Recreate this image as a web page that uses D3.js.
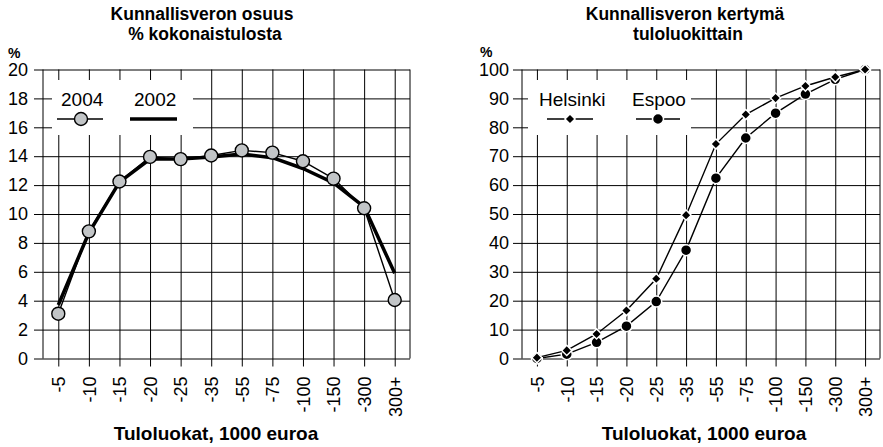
<!DOCTYPE html>
<html>
<head>
<meta charset="utf-8">
<script src="https://cdn.jsdelivr.net/npm/d3@7"></script>
<style>
  body { margin: 0; background: #fff; }
  text { font-family: "Liberation Sans", Arial, sans-serif; fill: #000; }
</style>
</head>
<body>
<div id="chart"></div>
<script>
const categories = ["-5", "-10", "-15", "-20", "-25", "-35", "-55", "-75", "-100", "-150", "-300", "300+"];
const share2004 = [3.1, 8.8, 12.25, 13.95, 13.8, 14.05, 14.4, 14.25, 13.65, 12.45, 10.4, 4.05];
const share2002 = [3.7, 8.7, 12.2, 13.8, 13.8, 13.95, 14.15, 13.9, 13.15, 12.15, 10.5, 5.9];
const helsinki = [0.3, 2.8, 8.5, 16.6, 27.6, 49.6, 74.2, 84.4, 90.1, 94.3, 97.4, 100];
const espoo = [0, 1.5, 5.6, 11.2, 19.7, 37.5, 62.4, 76.3, 84.9, 91.5, 96.6, 100];
const leftTicks = [0, 2, 4, 6, 8, 10, 12, 14, 16, 18, 20];
const rightTicks = [0, 10, 20, 30, 40, 50, 60, 70, 80, 90, 100];

function main() {
    const svg = d3.select("#chart").append("svg")
        .attr("width", 883)
        .attr("height", 447);

    const top = 69.5, bottom = 358.5;

    // draws grid, axes and labels of one panel, returns the scales
    function panel(x0, x1, yMax, ticks, labelPad) {
        const x = d3.scalePoint().domain(categories).range([x0, x1]).padding(0.5);
        const y = d3.scaleLinear().domain([0, yMax]).range([bottom, top]);

        const yAxis = svg.append("g")
            .attr("transform", "translate(" + x0 + ",0)")
            .call(d3.axisLeft(y).tickValues(ticks).tickSize(-(x1 - x0)).tickPadding(labelPad));
        yAxis.select(".domain").remove();
        yAxis.selectAll(".tick line").attr("x1", -9).attr("stroke", "#000");
        yAxis.selectAll(".tick text")
            .attr("font-size", "18px")
            .attr("font-family", "Liberation Sans, Arial, sans-serif");

        const xAxis = svg.append("g")
            .attr("transform", "translate(0," + bottom + ")")
            .call(d3.axisBottom(x).tickSize(-(bottom - top)).tickSizeOuter(0));
        xAxis.select(".domain").remove();
        xAxis.selectAll(".tick line").attr("y1", 8).attr("stroke", "#000");
        xAxis.selectAll(".tick text")
            .attr("font-size", "18px")
            .attr("font-family", "Liberation Sans, Arial, sans-serif")
            .attr("transform", "rotate(-90)")
            .attr("text-anchor", "end")
            .attr("x", -18)
            .attr("y", 0)
            .attr("dy", "0.35em");

        svg.append("line")
            .attr("x1", x0).attr("x2", x0).attr("y1", top).attr("y2", bottom)
            .attr("stroke", "#000");
        svg.append("line")
            .attr("x1", x1).attr("x2", x1).attr("y1", top).attr("y2", bottom)
            .attr("stroke", "#000");
        return { x, y };
    }

    function title(cx, lines) {
        lines.forEach((t, i) => {
            svg.append("text")
                .attr("x", cx + t[1]).attr("y", 19.5 + i * 20)
                .attr("text-anchor", "middle")
                .attr("font-weight", "bold")
                .attr("font-size", "17.5px")
                .text(t[0]);
        });
    }

    // ---------- left panel ----------
    const L = panel(43, 410, 20, leftTicks, 15);
    title(202, [["Kunnallisveron osuus", 0], ["% kokonaistulosta", 3]]);
    svg.append("text").attr("x", 8).attr("y", 58)
        .attr("font-weight", "bold").attr("font-size", "14px").text("%");
    svg.append("text").attr("x", 216).attr("y", 440)
        .attr("text-anchor", "middle").attr("font-weight", "bold").attr("font-size", "19px")
        .text("Tuloluokat, 1000 euroa");

    svg.append("rect")
        .attr("x", 52).attr("y", 80).attr("width", 141).attr("height", 55)
        .attr("fill", "#fff");

    const lineL = d3.line()
        .x((d, i) => L.x(categories[i]))
        .y(d => L.y(d));

    svg.append("path").datum(share2002)
        .attr("d", lineL).attr("fill", "none")
        .attr("stroke", "#000").attr("stroke-width", 3.5).attr("stroke-linejoin", "round");
    svg.append("path").datum(share2004)
        .attr("d", lineL).attr("fill", "none")
        .attr("stroke", "#000").attr("stroke-width", 1.4);
    svg.selectAll(".dot2004")
        .data(share2004)
        .enter()
        .append("circle")
        .attr("class", "dot2004")
        .attr("cx", (d, i) => L.x(categories[i]))
        .attr("cy", d => L.y(d))
        .attr("r", 6.5)
        .attr("fill", "#c2c5c7")
        .attr("stroke", "#000")
        .attr("stroke-width", 1.4);

    // legend left
    svg.append("text").attr("x", 61).attr("y", 106).attr("font-size", "19px").text("2004");
    svg.append("text").attr("x", 134).attr("y", 106).attr("font-size", "19px").text("2002");
    svg.append("line").attr("x1", 57).attr("x2", 103).attr("y1", 119).attr("y2", 119)
        .attr("stroke", "#000").attr("stroke-width", 1.4);
    svg.append("circle").attr("cx", 81).attr("cy", 119).attr("r", 6.5)
        .attr("fill", "#c2c5c7").attr("stroke", "#000").attr("stroke-width", 1.4);
    svg.append("line").attr("x1", 130).attr("x2", 177).attr("y1", 119).attr("y2", 119)
        .attr("stroke", "#000").attr("stroke-width", 3.5);

    // ---------- right panel ----------
    const R = panel(522, 880, 100, rightTicks, 13);
    title(685, [["Kunnallisveron kertymä", 0], ["tuloluokittain", 3]]);
    svg.append("text").attr("x", 480).attr("y", 57)
        .attr("font-weight", "bold").attr("font-size", "14px").text("%");
    svg.append("text").attr("x", 704).attr("y", 440)
        .attr("text-anchor", "middle").attr("font-weight", "bold").attr("font-size", "19px")
        .text("Tuloluokat, 1000 euroa");

    svg.append("rect")
        .attr("x", 528).attr("y", 80).attr("width", 163).attr("height", 55)
        .attr("fill", "#fff");

    const lineR = d3.line()
        .x((d, i) => R.x(categories[i]))
        .y(d => R.y(d));
    const diamond = d3.symbol(d3.symbolSquare, 52);

    svg.append("path").datum(espoo)
        .attr("d", lineR).attr("fill", "none")
        .attr("stroke", "#000").attr("stroke-width", 1.4);
    svg.selectAll(".dotEspoo")
        .data(espoo)
        .enter()
        .append("circle")
        .attr("class", "dotEspoo")
        .attr("cx", (d, i) => R.x(categories[i]))
        .attr("cy", d => R.y(d))
        .attr("r", 5.5)
        .attr("fill", "#000")
        .attr("stroke", "#fff")
        .attr("stroke-width", 1.5);

    svg.append("path").datum(helsinki)
        .attr("d", lineR).attr("fill", "none")
        .attr("stroke", "#000").attr("stroke-width", 1.4);
    svg.selectAll(".dotHelsinki")
        .data(helsinki)
        .enter()
        .append("path")
        .attr("class", "dotHelsinki")
        .attr("d", diamond)
        .attr("transform", (d, i) => "translate(" + R.x(categories[i]) + "," + R.y(d) + ") rotate(45)")
        .attr("fill", "#000")
        .attr("stroke", "#fff")
        .attr("stroke-width", 1.5);

    // legend right
    svg.append("text").attr("x", 539).attr("y", 106).attr("font-size", "19px").text("Helsinki");
    svg.append("text").attr("x", 632).attr("y", 106).attr("font-size", "19px").text("Espoo");
    svg.append("line").attr("x1", 547).attr("x2", 593).attr("y1", 119).attr("y2", 119)
        .attr("stroke", "#000").attr("stroke-width", 1.4);
    svg.append("path").attr("d", diamond)
        .attr("transform", "translate(570,119) rotate(45)")
        .attr("fill", "#000").attr("stroke", "#fff").attr("stroke-width", 1.5);
    svg.append("line").attr("x1", 636).attr("x2", 680).attr("y1", 119).attr("y2", 119)
        .attr("stroke", "#000").attr("stroke-width", 1.4);
    svg.append("circle").attr("cx", 658).attr("cy", 119).attr("r", 5.5)
        .attr("fill", "#000").attr("stroke", "#fff").attr("stroke-width", 1.5);
}
main();
</script>
</body>
</html>
